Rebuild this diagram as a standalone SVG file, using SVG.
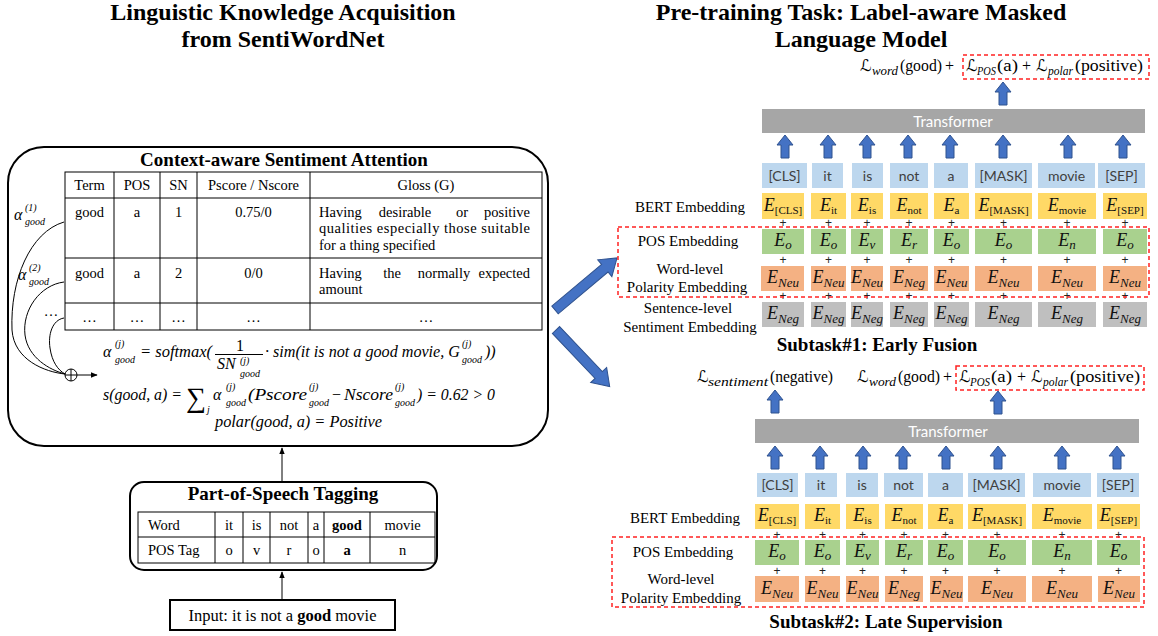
<svg xmlns="http://www.w3.org/2000/svg" width="1158" height="636" viewBox="0 0 1158 636">
<defs>
<style>
.t{font-family:"Liberation Serif","Times New Roman",serif;fill:#000}
.ttl{font-family:"Liberation Serif","Times New Roman",serif;font-weight:bold;font-size:24px;text-anchor:middle}
.h{font-family:"Liberation Serif","Times New Roman",serif;font-weight:bold;font-size:19px;text-anchor:middle}
.c{font-family:"Liberation Serif","Times New Roman",serif;font-size:14.5px;text-anchor:middle}
.g{font-family:"Liberation Serif","Times New Roman",serif;font-size:14.5px}
.m{font-family:"Liberation Serif","Times New Roman",serif;font-style:italic;font-size:16px}
.ms{font-family:"Liberation Serif","Times New Roman",serif;font-style:italic;font-size:10px}
.up{font-family:"Liberation Serif","Times New Roman",serif;font-size:16px}
.L{font-family:"DejaVu Serif","DejaVu Sans",serif;font-size:16px;font-style:italic}
.lsub{font-family:"Liberation Serif","Times New Roman",serif;font-style:italic;font-size:12px}
.lbl{font-family:"Liberation Serif","Times New Roman",serif;font-size:15px;text-anchor:middle}
.tk{font-family:Lato,"Liberation Sans",sans-serif;font-size:14px;fill:#404040;text-anchor:middle}
.tr{font-family:Lato,"Liberation Sans",sans-serif;font-size:15px;fill:#fff;text-anchor:middle}
.e{font-family:"Liberation Serif","Times New Roman",serif;font-style:italic;font-size:18px;text-anchor:middle;fill:#111}
.sb{font-style:normal;font-size:11px}
.si{font-style:italic;font-size:13px}
.p{font-family:"Liberation Sans",Arial,sans-serif;font-size:12px;text-anchor:middle;fill:#222}
.ln{stroke:#000;stroke-width:1;fill:none}
.bx{stroke:#000;stroke-width:2;fill:#fff}
.red{fill:none;stroke:#f22;stroke-width:1.5;stroke-dasharray:4 3}
.ba{fill:#4472c4;stroke:#2f528f;stroke-width:1}
.tok{fill:#bdd7ee}
.y{fill:#ffd966}
.gr{fill:#a9d18e}
.o{fill:#f4b183}
.gy{fill:#bfbfbf}
.trb{fill:#a6a6a6}
</style>
<marker id="ah" viewBox="0 0 10 10" refX="9" refY="5" markerWidth="7" markerHeight="7" orient="auto">
<path d="M0,1 L10,5 L0,9 Z" fill="#000"/>
</marker>
<path id="ua" d="M0,0 L8,10 L4,10 L4,23 L-4,23 L-4,10 L-8,10 Z"/>
</defs>
<rect width="1158" height="636" fill="#fff"/>

<g id="titles">
<text class="ttl" x="283" y="20">Linguistic Knowledge Acquisition</text>
<text class="ttl" x="283" y="47">from SentiWordNet</text>
<text class="ttl" x="861" y="20">Pre-training Task: Label-aware Masked</text>
<text class="ttl" x="861" y="47">Language Model</text>
</g>

<g id="attention">
<rect class="bx" x="8" y="147" width="540" height="299" rx="36"/>
<text class="h" x="284" y="166">Context-aware Sentiment Attention</text>
<rect class="ln" x="65" y="172" width="477" height="158"/>
<path class="ln" d="M65,198H542M65,258H542M65,303H542M114,172V330M160,172V330M197,172V330M310,172V330"/>
<text class="c" x="89.5" y="190">Term</text>
<text class="c" x="137" y="190">POS</text>
<text class="c" x="178.5" y="190">SN</text>
<text class="c" x="253.5" y="190">Pscore / Nscore</text>
<text class="c" x="426" y="190">Gloss (G)</text>
<text class="c" x="89.5" y="217">good</text>
<text class="c" x="137" y="217">a</text>
<text class="c" x="178.5" y="217">1</text>
<text class="c" x="253.5" y="217">0.75/0</text>
<text class="g" x="319" y="217">Having</text>
<text class="c" x="405" y="217">desirable</text>
<text class="c" x="462" y="217">or</text>
<text class="g" x="530" y="217" text-anchor="end">positive</text>
<text class="g" x="319" y="233" textLength="211" lengthAdjust="spacing">qualities especially those suitable</text>
<text class="g" x="319" y="250">for a thing specified</text>
<text class="c" x="89.5" y="278">good</text>
<text class="c" x="137" y="278">a</text>
<text class="c" x="178.5" y="278">2</text>
<text class="c" x="253.5" y="278">0/0</text>
<text class="g" x="319" y="278">Having</text>
<text class="c" x="392" y="278">the</text>
<text class="c" x="444" y="278">normally</text>
<text class="g" x="530" y="278" text-anchor="end">expected</text>
<text class="g" x="319" y="294">amount</text>
<text class="c" x="89.5" y="322">…</text>
<text class="c" x="137" y="322">…</text>
<text class="c" x="178.5" y="322">…</text>
<text class="c" x="253.5" y="322">…</text>
<text class="c" x="426" y="322">…</text>

<text class="m" x="14" y="220" font-size="17">α</text>
<text class="ms" x="25" y="211">(1)</text>
<text class="ms" x="25" y="225">good</text>
<text class="m" x="18" y="280" font-size="17">α</text>
<text class="ms" x="29" y="271">(2)</text>
<text class="ms" x="29" y="285">good</text>
<text class="c" x="51" y="316">…</text>

<path class="ln" d="M64,222 C30,232 10,280 12,330 C14,360 45,372 65,374"/>
<path class="ln" d="M64,282 C40,285 22,310 25,335 C28,358 50,370 65,374"/>
<path class="ln" d="M64,318 C52,320 48,335 50,348 C52,362 58,370 65,374"/>
<circle cx="71" cy="375" r="6" fill="#fff" stroke="#000" stroke-width="1"/>
<path class="ln" d="M65,375H77M71,369V381"/>
<line class="ln" x1="77" y1="375" x2="97" y2="375" marker-end="url(#ah)"/>

<text class="m" x="103" y="357" font-size="18">α</text>
<text class="ms" x="115" y="347">(j)</text>
<text class="ms" x="115" y="363">good</text>
<text class="m" x="140" y="357" textLength="72" lengthAdjust="spacingAndGlyphs">= softmax(</text>
<text class="up" x="240" y="351" text-anchor="middle">1</text>
<line x1="215" y1="354.5" x2="263" y2="354.5" stroke="#000" stroke-width="1"/>
<text class="m" x="217" y="369">SN</text>
<text class="ms" x="240" y="364">(j)</text>
<text class="ms" x="240" y="377">good</text>
<text class="m" x="265" y="357" textLength="195" lengthAdjust="spacingAndGlyphs">· sim(it is not a good movie, G</text>
<text class="ms" x="462" y="347">(j)</text>
<text class="ms" x="462" y="363">good</text>
<text class="m" x="485" y="357">))</text>

<text class="m" x="103" y="400" textLength="79" lengthAdjust="spacingAndGlyphs">s(good, a) =</text>
<text class="t" x="186" y="407" font-size="28">∑</text>
<text class="ms" x="207" y="413">j</text>
<text class="m" x="213" y="400" font-size="18">α</text>
<text class="ms" x="226" y="390">(j)</text>
<text class="ms" x="226" y="406">good</text>
<text class="m" x="248" y="400" textLength="59" lengthAdjust="spacingAndGlyphs">(Pscore</text>
<text class="ms" x="309" y="390">(j)</text>
<text class="ms" x="309" y="406">good</text>
<text class="up" x="332" y="400">−</text>
<text class="m" x="344" y="400" textLength="49" lengthAdjust="spacingAndGlyphs">Nscore</text>
<text class="ms" x="395" y="390">(j)</text>
<text class="ms" x="395" y="406">good</text>
<text class="m" x="417" y="400" textLength="78" lengthAdjust="spacingAndGlyphs">) = 0.62 &gt; 0</text>
<text class="m" x="215" y="427" textLength="167" lengthAdjust="spacingAndGlyphs">polar(good, a) = Positive</text>
</g>

<g id="pos-tagging">
<rect class="bx" x="130" y="482" width="307" height="88" rx="14"/>
<text class="h" x="283" y="500">Part-of-Speech Tagging</text>
<rect class="ln" x="138" y="512" width="297" height="51"/>
<path class="ln" d="M138,537H435M215,512V563M243,512V563M270,512V563M308,512V563M324,512V563M370,512V563"/>
<text class="g" x="148" y="530" font-size="15">Word</text>
<text class="c" x="229" y="530">it</text>
<text class="c" x="256.5" y="530">is</text>
<text class="c" x="289" y="530">not</text>
<text class="c" x="316" y="530">a</text>
<text class="c" x="347" y="530" font-weight="bold">good</text>
<text class="c" x="402.5" y="530">movie</text>
<text class="g" x="148" y="555">POS Tag</text>
<text class="c" x="229" y="555">o</text>
<text class="c" x="256.5" y="555">v</text>
<text class="c" x="289" y="555">r</text>
<text class="c" x="316" y="555">o</text>
<text class="c" x="347" y="555" font-weight="bold">a</text>
<text class="c" x="402.5" y="555">n</text>
</g>

<g id="input">
<rect x="170" y="600" width="225" height="30" fill="#fff" stroke="#000" stroke-width="2"/>
<text class="t" x="282.5" y="621" font-size="16.5" text-anchor="middle">Input: it is not a <tspan font-weight="bold">good</tspan> movie</text>
</g>

<g id="connectors">
<line class="ln" x1="282" y1="600" x2="282" y2="572" stroke-width="1.5" marker-end="url(#ah)"/>
<line class="ln" x1="282" y1="482" x2="282" y2="448" stroke-width="1.5" marker-end="url(#ah)"/>
<polygon class="ba" transform="translate(555,310) rotate(-40)" points="0,-5 65,-5 65,-11 81,0 65,11 65,5 0,5"/>
<polygon class="ba" transform="translate(556,330) rotate(46.5)" points="0,-5 62,-5 62,-11 78,0 62,11 62,5 0,5"/>
</g>

<g id="subtask1">
<text class="L" x="860" y="71">ℒ</text>
<text class="lsub" x="872" y="75" textLength="26" lengthAdjust="spacingAndGlyphs">word</text>
<text class="up" x="900" y="71" font-size="17" textLength="42" lengthAdjust="spacingAndGlyphs">(good)</text>
<text class="up" x="945" y="71" font-size="17">+</text>
<text class="L" x="966" y="71">ℒ</text>
<text class="lsub" x="977" y="75" textLength="19" lengthAdjust="spacingAndGlyphs">POS</text>
<text class="up" x="997" y="71" font-size="17" textLength="21" lengthAdjust="spacingAndGlyphs">(a)</text>
<text class="up" x="1022" y="71" font-size="17">+</text>
<text class="L" x="1036" y="71">ℒ</text>
<text class="lsub" x="1048" y="75" textLength="25" lengthAdjust="spacingAndGlyphs">polar</text>
<text class="up" x="1075" y="71" font-size="17" textLength="68" lengthAdjust="spacingAndGlyphs">(positive)</text>
<rect class="red" x="963" y="55" width="186" height="24"/>
<use href="#ua" class="ba" x="1003" y="82"/>
<rect class="trb" x="762" y="109" width="383" height="24"/>
<text class="tr" x="953" y="127">Transformer</text>
<use href="#ua" class="ba" x="785" y="135"/>
<use href="#ua" class="ba" x="828" y="135"/>
<use href="#ua" class="ba" x="867" y="135"/>
<use href="#ua" class="ba" x="908" y="135"/>
<use href="#ua" class="ba" x="950" y="135"/>
<use href="#ua" class="ba" x="1003" y="135"/>
<use href="#ua" class="ba" x="1068" y="135"/>
<use href="#ua" class="ba" x="1123" y="135"/>
<rect class="tok" x="762" y="163" width="45" height="25"/>
<rect class="tok" x="812" y="163" width="31" height="25"/>
<rect class="tok" x="852" y="163" width="31" height="25"/>
<rect class="tok" x="890" y="163" width="38" height="25"/>
<rect class="tok" x="934" y="163" width="34" height="25"/>
<rect class="tok" x="975" y="163" width="57" height="25"/>
<rect class="tok" x="1038" y="163" width="57" height="25"/>
<rect class="tok" x="1098" y="163" width="47" height="25"/>
<text class="tk" x="784.5" y="181">[CLS]</text>
<text class="tk" x="827.5" y="181">it</text>
<text class="tk" x="867.5" y="181">is</text>
<text class="tk" x="909" y="181">not</text>
<text class="tk" x="951" y="181">a</text>
<text class="tk" x="1003.5" y="181">[MASK]</text>
<text class="tk" x="1066.5" y="181">movie</text>
<text class="tk" x="1121.5" y="181">[SEP]</text>

<text class="lbl" x="690" y="212">BERT Embedding</text>
<text class="lbl" x="688" y="246">POS Embedding</text>
<text class="lbl" x="690" y="274">Word-level</text>
<text class="lbl" x="687" y="292">Polarity Embedding</text>
<text class="lbl" x="688" y="313">Sentence-level</text>
<text class="lbl" x="690" y="332">Sentiment Embedding</text>

<rect class="y" x="762" y="193" width="42" height="26"/>
<rect class="y" x="811" y="193" width="35" height="26"/>
<rect class="y" x="851" y="193" width="32" height="26"/>
<rect class="y" x="890" y="193" width="38" height="26"/>
<rect class="y" x="934" y="193" width="35" height="26"/>
<rect class="y" x="975" y="193" width="57" height="26"/>
<rect class="y" x="1038" y="193" width="58" height="26"/>
<rect class="y" x="1103" y="193" width="44" height="26"/>
<rect class="gr" x="762" y="229" width="42" height="25"/>
<rect class="gr" x="811" y="229" width="35" height="25"/>
<rect class="gr" x="851" y="229" width="32" height="25"/>
<rect class="gr" x="890" y="229" width="38" height="25"/>
<rect class="gr" x="934" y="229" width="35" height="25"/>
<rect class="gr" x="975" y="229" width="57" height="25"/>
<rect class="gr" x="1038" y="229" width="58" height="25"/>
<rect class="gr" x="1103" y="229" width="44" height="25"/>
<rect class="o" x="761" y="266" width="43" height="25"/>
<rect class="o" x="811" y="266" width="35" height="25"/>
<rect class="o" x="851" y="266" width="32" height="25"/>
<rect class="o" x="890" y="266" width="38" height="25"/>
<rect class="o" x="934" y="266" width="35" height="25"/>
<rect class="o" x="975" y="266" width="57" height="25"/>
<rect class="o" x="1038" y="266" width="58" height="25"/>
<rect class="o" x="1103" y="266" width="44" height="25"/>
<rect class="gy" x="762" y="302" width="42" height="25"/>
<rect class="gy" x="811" y="302" width="35" height="25"/>
<rect class="gy" x="851" y="302" width="32" height="25"/>
<rect class="gy" x="890" y="302" width="38" height="25"/>
<rect class="gy" x="934" y="302" width="35" height="25"/>
<rect class="gy" x="975" y="302" width="57" height="25"/>
<rect class="gy" x="1038" y="302" width="58" height="25"/>
<rect class="gy" x="1103" y="302" width="44" height="25"/>

<text class="e" x="783" y="211">E<tspan class="sb" dy="3">[CLS]</tspan></text>
<text class="e" x="828.5" y="211">E<tspan class="sb" dy="3">it</tspan></text>
<text class="e" x="867" y="211">E<tspan class="sb" dy="3">is</tspan></text>
<text class="e" x="909" y="211">E<tspan class="sb" dy="3">not</tspan></text>
<text class="e" x="951.5" y="211">E<tspan class="sb" dy="3">a</tspan></text>
<text class="e" x="1003.5" y="211">E<tspan class="sb" dy="3">[MASK]</tspan></text>
<text class="e" x="1067" y="211">E<tspan class="sb" dy="3">movie</tspan></text>
<text class="e" x="1125" y="211">E<tspan class="sb" dy="3">[SEP]</tspan></text>

<text class="e" x="783" y="246">E<tspan class="si" dy="3">o</tspan></text>
<text class="e" x="828.5" y="246">E<tspan class="si" dy="3">o</tspan></text>
<text class="e" x="867" y="246">E<tspan class="si" dy="3">v</tspan></text>
<text class="e" x="909" y="246">E<tspan class="si" dy="3">r</tspan></text>
<text class="e" x="951.5" y="246">E<tspan class="si" dy="3">o</tspan></text>
<text class="e" x="1003.5" y="246">E<tspan class="si" dy="3">o</tspan></text>
<text class="e" x="1067" y="246">E<tspan class="si" dy="3">n</tspan></text>
<text class="e" x="1125" y="246">E<tspan class="si" dy="3">o</tspan></text>

<text class="e" x="783" y="283">E<tspan class="si" dy="4">Neu</tspan></text>
<text class="e" x="828.5" y="283">E<tspan class="si" dy="4">Neu</tspan></text>
<text class="e" x="867" y="283">E<tspan class="si" dy="4">Neu</tspan></text>
<text class="e" x="909" y="283">E<tspan class="si" dy="4">Neg</tspan></text>
<text class="e" x="951.5" y="283">E<tspan class="si" dy="4">Neu</tspan></text>
<text class="e" x="1003.5" y="283">E<tspan class="si" dy="4">Neu</tspan></text>
<text class="e" x="1067" y="283">E<tspan class="si" dy="4">Neu</tspan></text>
<text class="e" x="1125" y="283">E<tspan class="si" dy="4">Neu</tspan></text>

<text class="e" x="783" y="319">E<tspan class="si" dy="4">Neg</tspan></text>
<text class="e" x="828.5" y="319">E<tspan class="si" dy="4">Neg</tspan></text>
<text class="e" x="867" y="319">E<tspan class="si" dy="4">Neg</tspan></text>
<text class="e" x="909" y="319">E<tspan class="si" dy="4">Neg</tspan></text>
<text class="e" x="951.5" y="319">E<tspan class="si" dy="4">Neg</tspan></text>
<text class="e" x="1003.5" y="319">E<tspan class="si" dy="4">Neg</tspan></text>
<text class="e" x="1067" y="319">E<tspan class="si" dy="4">Neg</tspan></text>
<text class="e" x="1125" y="319">E<tspan class="si" dy="4">Neg</tspan></text>

<g class="p">
<text x="783" y="227">+</text><text x="828.5" y="227">+</text><text x="867" y="227">+</text><text x="909" y="227">+</text><text x="951.5" y="227">+</text><text x="1003.5" y="227">+</text><text x="1067" y="227">+</text><text x="1125" y="227">+</text>
<text x="783" y="264">+</text><text x="828.5" y="264">+</text><text x="867" y="264">+</text><text x="909" y="264">+</text><text x="951.5" y="264">+</text><text x="1003.5" y="264">+</text><text x="1067" y="264">+</text><text x="1125" y="264">+</text>
<text x="783" y="300">+</text><text x="828.5" y="300">+</text><text x="867" y="300">+</text><text x="909" y="300">+</text><text x="951.5" y="300">+</text><text x="1003.5" y="300">+</text><text x="1067" y="300">+</text><text x="1125" y="300">+</text>
</g>
<rect class="red" x="618" y="227" width="531" height="70"/>
<text class="h" x="877" y="351">Subtask#1: Early Fusion</text>
</g>

<g id="subtask2">
<text class="L" x="697" y="382">ℒ</text>
<text class="lsub" x="708" y="386" textLength="60" lengthAdjust="spacingAndGlyphs">sentiment</text>
<text class="up" x="770" y="382" font-size="17" textLength="63" lengthAdjust="spacingAndGlyphs">(negative)</text>
<text class="L" x="857" y="382">ℒ</text>
<text class="lsub" x="869" y="386" textLength="27" lengthAdjust="spacingAndGlyphs">word</text>
<text class="up" x="898" y="382" font-size="17" textLength="42" lengthAdjust="spacingAndGlyphs">(good)</text>
<text class="up" x="943" y="382" font-size="17">+</text>
<text class="L" x="959" y="382">ℒ</text>
<text class="lsub" x="970" y="386" textLength="20" lengthAdjust="spacingAndGlyphs">POS</text>
<text class="up" x="991" y="382" font-size="17" textLength="21" lengthAdjust="spacingAndGlyphs">(a)</text>
<text class="up" x="1017" y="382" font-size="17">+</text>
<text class="L" x="1031" y="382">ℒ</text>
<text class="lsub" x="1043" y="386" textLength="25" lengthAdjust="spacingAndGlyphs">polar</text>
<text class="up" x="1070" y="382" font-size="17" textLength="70" lengthAdjust="spacingAndGlyphs">(positive)</text>
<rect class="red" x="956" y="366" width="188" height="24"/>
<use href="#ua" class="ba" x="775" y="390"/>
<use href="#ua" class="ba" x="998" y="391"/>
<rect class="trb" x="755" y="419" width="384" height="24"/>
<text class="tr" x="948" y="437">Transformer</text>
<use href="#ua" class="ba" x="775" y="446"/>
<use href="#ua" class="ba" x="820" y="446"/>
<use href="#ua" class="ba" x="863" y="446"/>
<use href="#ua" class="ba" x="903" y="446"/>
<use href="#ua" class="ba" x="946" y="446"/>
<use href="#ua" class="ba" x="998" y="446"/>
<use href="#ua" class="ba" x="1062" y="446"/>
<use href="#ua" class="ba" x="1117" y="446"/>
<rect class="tok" x="757" y="473" width="41" height="24"/>
<rect class="tok" x="805" y="473" width="32" height="24"/>
<rect class="tok" x="846" y="473" width="32" height="24"/>
<rect class="tok" x="884" y="473" width="39" height="24"/>
<rect class="tok" x="928" y="473" width="35" height="24"/>
<rect class="tok" x="968" y="473" width="57" height="24"/>
<rect class="tok" x="1033" y="473" width="58" height="24"/>
<rect class="tok" x="1097" y="473" width="42" height="24"/>
<text class="tk" x="777.5" y="490">[CLS]</text>
<text class="tk" x="821" y="490">it</text>
<text class="tk" x="862" y="490">is</text>
<text class="tk" x="903.5" y="490">not</text>
<text class="tk" x="945.5" y="490">a</text>
<text class="tk" x="996.5" y="490">[MASK]</text>
<text class="tk" x="1062" y="490">movie</text>
<text class="tk" x="1118" y="490">[SEP]</text>

<text class="lbl" x="685" y="523">BERT Embedding</text>
<text class="lbl" x="683" y="557">POS Embedding</text>
<text class="lbl" x="681" y="584">Word-level</text>
<text class="lbl" x="681" y="603">Polarity Embedding</text>

<rect class="y" x="755" y="504" width="44" height="25"/>
<rect class="y" x="805" y="504" width="35" height="25"/>
<rect class="y" x="846" y="504" width="33" height="25"/>
<rect class="y" x="885" y="504" width="38" height="25"/>
<rect class="y" x="928" y="504" width="35" height="25"/>
<rect class="y" x="968" y="504" width="58" height="25"/>
<rect class="y" x="1032" y="504" width="60" height="25"/>
<rect class="y" x="1097" y="504" width="43" height="25"/>
<rect class="gr" x="755" y="540" width="44" height="25"/>
<rect class="gr" x="805" y="540" width="35" height="25"/>
<rect class="gr" x="846" y="540" width="33" height="25"/>
<rect class="gr" x="885" y="540" width="38" height="25"/>
<rect class="gr" x="928" y="540" width="35" height="25"/>
<rect class="gr" x="968" y="540" width="58" height="25"/>
<rect class="gr" x="1032" y="540" width="60" height="25"/>
<rect class="gr" x="1097" y="540" width="43" height="25"/>
<rect class="o" x="755" y="576" width="44" height="26"/>
<rect class="o" x="805" y="576" width="35" height="26"/>
<rect class="o" x="846" y="576" width="33" height="26"/>
<rect class="o" x="885" y="576" width="38" height="26"/>
<rect class="o" x="930" y="576" width="33" height="26"/>
<rect class="o" x="968" y="576" width="58" height="26"/>
<rect class="o" x="1032" y="576" width="60" height="26"/>
<rect class="o" x="1098" y="576" width="42" height="26"/>

<text class="e" x="777" y="521">E<tspan class="sb" dy="3">[CLS]</tspan></text>
<text class="e" x="822.5" y="521">E<tspan class="sb" dy="3">it</tspan></text>
<text class="e" x="862.5" y="521">E<tspan class="sb" dy="3">is</tspan></text>
<text class="e" x="904" y="521">E<tspan class="sb" dy="3">not</tspan></text>
<text class="e" x="945.5" y="521">E<tspan class="sb" dy="3">a</tspan></text>
<text class="e" x="997" y="521">E<tspan class="sb" dy="3">[MASK]</tspan></text>
<text class="e" x="1062" y="521">E<tspan class="sb" dy="3">movie</tspan></text>
<text class="e" x="1118.5" y="521">E<tspan class="sb" dy="3">[SEP]</tspan></text>

<text class="e" x="777" y="557">E<tspan class="si" dy="3">o</tspan></text>
<text class="e" x="822.5" y="557">E<tspan class="si" dy="3">o</tspan></text>
<text class="e" x="862.5" y="557">E<tspan class="si" dy="3">v</tspan></text>
<text class="e" x="904" y="557">E<tspan class="si" dy="3">r</tspan></text>
<text class="e" x="945.5" y="557">E<tspan class="si" dy="3">o</tspan></text>
<text class="e" x="997" y="557">E<tspan class="si" dy="3">o</tspan></text>
<text class="e" x="1062" y="557">E<tspan class="si" dy="3">n</tspan></text>
<text class="e" x="1118.5" y="557">E<tspan class="si" dy="3">o</tspan></text>

<text class="e" x="777" y="594">E<tspan class="si" dy="4">Neu</tspan></text>
<text class="e" x="822.5" y="594">E<tspan class="si" dy="4">Neu</tspan></text>
<text class="e" x="862.5" y="594">E<tspan class="si" dy="4">Neu</tspan></text>
<text class="e" x="904" y="594">E<tspan class="si" dy="4">Neg</tspan></text>
<text class="e" x="946.5" y="594">E<tspan class="si" dy="4">Neu</tspan></text>
<text class="e" x="997" y="594">E<tspan class="si" dy="4">Neu</tspan></text>
<text class="e" x="1062" y="594">E<tspan class="si" dy="4">Neu</tspan></text>
<text class="e" x="1119" y="594">E<tspan class="si" dy="4">Neu</tspan></text>

<g class="p">
<text x="777" y="539">+</text><text x="822.5" y="539">+</text><text x="862.5" y="539">+</text><text x="904" y="539">+</text><text x="945.5" y="539">+</text><text x="997" y="539">+</text><text x="1062" y="539">+</text><text x="1118.5" y="539">+</text>
<text x="777" y="575">+</text><text x="822.5" y="575">+</text><text x="862.5" y="575">+</text><text x="904" y="575">+</text><text x="945.5" y="575">+</text><text x="997" y="575">+</text><text x="1062" y="575">+</text><text x="1118.5" y="575">+</text>
</g>
<rect class="red" x="612" y="537" width="532" height="70"/>
<text class="h" x="886" y="628">Subtask#2: Late Supervision</text>
</g>
</svg>
